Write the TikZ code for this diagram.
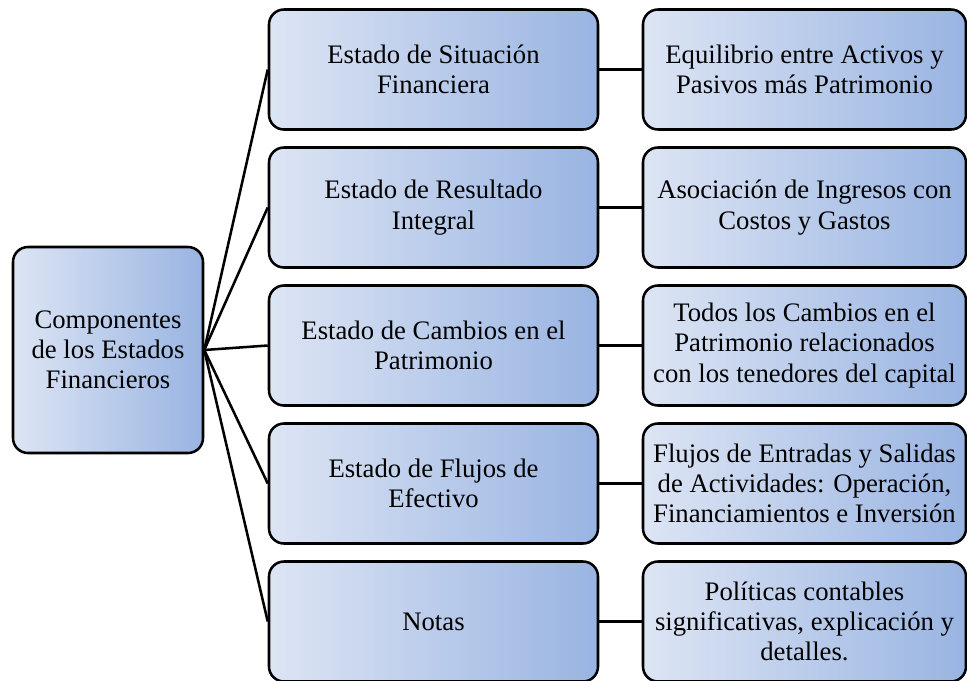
\documentclass[tikz,border=0pt]{standalone}
\usepackage{fontspec}
\setmainfont{LiberationSerif}[Extension=.ttf, UprightFont=*-Regular, BoldFont=*-Bold, ItalicFont=*-Italic]
\usepackage{xcolor}
\usetikzlibrary{positioning}

\definecolor{boxleft}{RGB}{221,229,244}
\definecolor{boxright}{RGB}{153,180,226}

\begin{document}
\begin{tikzpicture}
\tikzstyle{box} = [rectangle, rounded corners=0.375cm, draw=black, line width=1.8pt, left color=boxleft, right color=boxright, align=center, inner sep=2pt, font=\rmfamily\fontsize{19}{21.5}\selectfont]
\tikzstyle{root} = [box, minimum width=4.75cm, minimum height=5.15cm]
\tikzstyle{estado} = [box, minimum width=8.225cm, minimum height=3cm]
\tikzstyle{detalle} = [box, minimum width=8.075cm, minimum height=3cm]
\tikzstyle{link} = [line width=1.8pt]

\useasboundingbox (0,0) rectangle (24.175,-17.025);

% Root
\node[root] (componentes) at (2.7,-8.75) {Componentes\\de los Estados\\Financieros};

% Estados
\node[estado] (situacion) at (10.8375,-1.7375) {Estado de Situación\\Financiera};
\node[estado] (resultado) at (10.8375,-5.1875) {Estado de Resultado\\Integral};
\node[estado] (cambios) at (10.8375,-8.6375) {Estado de Cambios en el\\Patrimonio};
\node[estado] (flujos) at (10.8375,-12.0875) {Estado de Flujos de\\Efectivo};
\node[estado] (notas) at (10.8375,-15.5375) {Notas};

% Detalles
\node[detalle] (equilibrio) at (20.1125,-1.7375) {Equilibrio entre Activos y\\Pasivos más Patrimonio};
\node[detalle] (asociacion) at (20.1125,-5.1875) {Asociación de Ingresos con\\Costos y Gastos};
\node[detalle] (todos) at (20.1125,-8.6375) {Todos los Cambios en el\\Patrimonio relacionados\\con los tenedores del capital};
\node[detalle] (entradas) at (20.1125,-12.0875) {Flujos de Entradas y Salidas\\de Actividades: Operación,\\Financiamientos e Inversión};
\node[detalle] (politicas) at (20.1125,-15.5375) {Políticas contables\\significativas, explicación y\\detalles.};

% Connections
\draw[link] (componentes.east) -- (situacion.west);
\draw[link] (componentes.east) -- (resultado.west);
\draw[link] (componentes.east) -- (cambios.west);
\draw[link] (componentes.east) -- (flujos.west);
\draw[link] (componentes.east) -- (notas.west);
\draw[link] (situacion) -- (equilibrio);
\draw[link] (resultado) -- (asociacion);
\draw[link] (cambios) -- (todos);
\draw[link] (flujos) -- (entradas);
\draw[link] (notas) -- (politicas);
\end{tikzpicture}
\end{document}
